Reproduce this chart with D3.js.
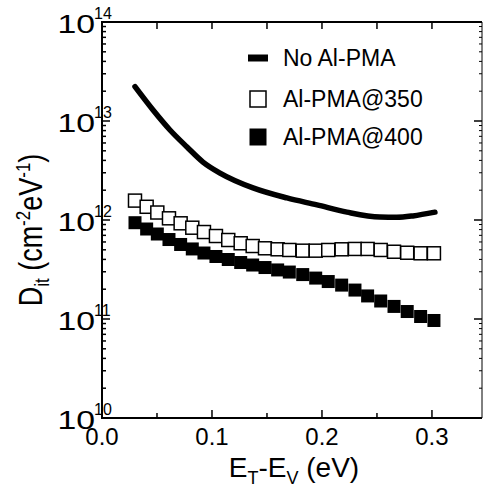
<!DOCTYPE html>
<html lang="en">
<head>
  <meta charset="utf-8">
  <title>Dit vs ET-EV</title>
  <script src="https://d3js.org/d3.v7.min.js"></script>
  <style>
    body { margin: 0; background: #fff; }
    svg { display: block; font-family: "Liberation Sans", Arial, Helvetica, sans-serif; }
  </style>
</head>
<body>
  <div id="chart"></div>
  <script>
    // Energies (eV) shared by both square series
    const energy = [0.0300, 0.0406, 0.0503, 0.0609, 0.0715, 0.0821, 0.0927, 0.1036, 0.1148,
      0.1261, 0.1370, 0.1482, 0.1597, 0.1703, 0.1825, 0.1943, 0.2057, 0.2179, 0.2300,
      0.2415, 0.2534, 0.2655, 0.2775, 0.2897, 0.3018];

    // Al-PMA@350 (open squares)
    const dit350 = [1.57e12, 1.36e12, 1.19e12, 1.04e12, 9.26e11, 8.36e11, 7.56e11, 6.89e11, 6.28e11,
      5.82e11, 5.46e11, 5.18e11, 5.06e11, 4.98e11, 4.90e11, 4.90e11, 4.98e11, 5.06e11, 5.10e11,
      5.10e11, 4.98e11, 4.78e11, 4.67e11, 4.61e11, 4.61e11];

    // Al-PMA@400 (filled squares)
    const dit400 = [9.39e11, 8.11e11, 7.22e11, 6.35e11, 5.66e11, 5.10e11, 4.64e11, 4.28e11, 3.99e11,
      3.72e11, 3.51e11, 3.31e11, 3.13e11, 2.98e11, 2.81e11, 2.59e11, 2.39e11, 2.20e11, 1.96e11,
      1.71e11, 1.52e11, 1.34e11, 1.19e11, 1.06e11, 9.66e10];

    // No Al-PMA (solid line)
    const lineE = [0.030, 0.0464, 0.0618, 0.0773, 0.0918, 0.1073, 0.1373, 0.1682, 0.1955,
      0.2227, 0.2527, 0.268, 0.2827, 0.3027];
    const lineDit = [2.22e13, 1.29e13, 8.11e12, 5.46e12, 3.85e12, 2.98e12, 2.11e12, 1.67e12, 1.42e12,
      1.20e12, 1.07e12, 1.065e12, 1.10e12, 1.20e12];

    const xTicks = [0, 0.1, 0.2, 0.3];
    const yExponents = [10, 11, 12, 13, 14];
    const legendLabels = ["No Al-PMA", "Al-PMA@350", "Al-PMA@400"];

    const width = 484, height = 486;
    const plotL = 102, plotR = 482, plotT = 22, plotB = 418;

    const svg = d3.select("#chart").append("svg")
      .attr("width", width)
      .attr("height", height);

    const x = d3.scaleLinear().domain([0, 0.3455]).range([plotL, plotR]);
    const y = d3.scaleLog().domain([1e10, 1e14]).range([plotB, plotT]);

    // Frame
    svg.append("line").attr("x1", plotL).attr("x2", plotR).attr("y1", plotB).attr("y2", plotB)
      .attr("stroke", "#000").attr("stroke-width", 2);
    svg.append("line").attr("x1", plotL).attr("x2", plotR).attr("y1", plotT).attr("y2", plotT)
      .attr("stroke", "#000").attr("stroke-width", 2);
    svg.append("line").attr("x1", plotL).attr("x2", plotL).attr("y1", plotT - 1).attr("y2", plotB + 1)
      .attr("stroke", "#000").attr("stroke-width", 2);
    svg.append("line").attr("x1", plotR).attr("x2", plotR).attr("y1", plotT).attr("y2", plotB)
      .attr("stroke", "#000").attr("stroke-width", 1);

    // X ticks (inward), bottom and top
    const xMinor = [0.05, 0.15, 0.25];
    const ticks = svg.append("g").attr("stroke", "#000").attr("stroke-width", 1.5);
    xTicks.forEach(t => {
      ticks.append("line").attr("x1", x(t)).attr("x2", x(t)).attr("y1", plotB).attr("y2", plotB - 8);
      ticks.append("line").attr("x1", x(t)).attr("x2", x(t)).attr("y1", plotT).attr("y2", plotT + 7);
    });
    xMinor.forEach(t => {
      ticks.append("line").attr("x1", x(t)).attr("x2", x(t)).attr("y1", plotB).attr("y2", plotB - 5);
      ticks.append("line").attr("x1", x(t)).attr("x2", x(t)).attr("y1", plotT).attr("y2", plotT + 7);
    });

    // Y ticks (inward), left and right
    yExponents.forEach((e, i) => {
      const v = Math.pow(10, e);
      ticks.append("line").attr("x1", plotL).attr("x2", plotL + 8).attr("y1", y(v)).attr("y2", y(v));
      ticks.append("line").attr("x1", plotR).attr("x2", plotR - 8).attr("y1", y(v)).attr("y2", y(v));
      if (i < yExponents.length - 1) {
        for (let m = 2; m <= 9; m++) {
          const yy = y(m * v);
          ticks.append("line").attr("x1", plotL).attr("x2", plotL + 4).attr("y1", yy).attr("y2", yy);
          ticks.append("line").attr("x1", plotR).attr("x2", plotR - 3).attr("y1", yy).attr("y2", yy)
            .attr("stroke-width", 1);
        }
      }
    });

    // X tick labels
    svg.append("g").selectAll("text").data(xTicks).join("text")
      .attr("x", d => x(d))
      .attr("y", 445)
      .attr("text-anchor", "middle")
      .attr("font-size", 24)
      .text(d => d.toFixed(1));

    // Y tick labels 10^n (the "10" is drawn a little wide, as in the figure)
    yExponents.forEach(e => {
      const yy = y(Math.pow(10, e));
      svg.append("text")
        .attr("transform", `translate(95,${yy + 11}) scale(1.3,1)`)
        .attr("text-anchor", "end")
        .attr("font-size", 26)
        .text("10");
      svg.append("text")
        .attr("x", 94).attr("y", yy - 3)
        .attr("font-size", 16)
        .text(e);
    });

    // Axis titles
    const xt = svg.append("text")
      .attr("x", 294).attr("y", 477)
      .attr("text-anchor", "middle")
      .attr("font-size", 28);
    xt.append("tspan").text("E");
    xt.append("tspan").attr("font-size", 18).attr("dy", 7).text("T");
    xt.append("tspan").attr("dy", -7).text("-E");
    xt.append("tspan").attr("font-size", 18).attr("dy", 7).text("V");
    xt.append("tspan").attr("dy", -7).text(" (eV)");

    const yt = svg.append("text")
      .attr("transform", "translate(42,230) rotate(-90) scale(1,1.2)")
      .attr("text-anchor", "middle")
      .attr("font-size", 27);
    yt.append("tspan").text("D");
    yt.append("tspan").attr("font-size", 17).attr("dy", 6).text("it");
    yt.append("tspan").attr("dy", -6).text(" (cm");
    yt.append("tspan").attr("font-size", 17).attr("dy", -10).text("-2");
    yt.append("tspan").attr("dy", 10).text("eV");
    yt.append("tspan").attr("font-size", 17).attr("dy", -10).text("-1");
    yt.append("tspan").attr("dy", 10).text(")");

    // No Al-PMA line
    const lineData = lineE.map((e, i) => [e, lineDit[i]]);
    svg.append("path")
      .datum(lineData)
      .attr("fill", "none")
      .attr("stroke", "#000")
      .attr("stroke-width", 5.5)
      .attr("stroke-linecap", "round")
      .attr("d", d3.line().x(d => x(d[0])).y(d => y(d[1])).curve(d3.curveMonotoneX));

    const sq = 13;
    // Open squares
    svg.append("g").selectAll("rect").data(energy.map((e, i) => [e, dit350[i]])).join("rect")
      .attr("x", d => x(d[0]) - sq / 2)
      .attr("y", d => y(d[1]) - sq / 2)
      .attr("width", sq).attr("height", sq)
      .attr("fill", "#fff")
      .attr("stroke", "#000")
      .attr("stroke-width", 1.5);

    // Filled squares
    svg.append("g").selectAll("rect").data(energy.map((e, i) => [e, dit400[i]])).join("rect")
      .attr("x", d => x(d[0]) - sq / 2)
      .attr("y", d => y(d[1]) - sq / 2)
      .attr("width", sq).attr("height", sq)
      .attr("fill", "#000");

    // Legend
    const legY = [58, 99, 137];
    const legX = 258, lsq = 16;
    const lg = svg.append("g");
    lg.append("line").attr("x1", legX - 10).attr("x2", legX + 10).attr("y1", legY[0]).attr("y2", legY[0])
      .attr("stroke", "#000").attr("stroke-width", 7);
    lg.append("rect").attr("x", legX - lsq / 2).attr("y", legY[1] - lsq / 2).attr("width", lsq).attr("height", lsq)
      .attr("fill", "#fff").attr("stroke", "#000").attr("stroke-width", 1.5);
    lg.append("rect").attr("x", legX - lsq / 2 - 0.5).attr("y", legY[2] - lsq / 2 - 0.5)
      .attr("width", lsq + 1).attr("height", lsq + 1)
      .attr("fill", "#000");
    lg.selectAll("text").data(legendLabels).join("text")
      .attr("x", 283)
      .attr("y", (d, i) => legY[i] + 8)
      .attr("font-size", 23)
      .text(d => d);
  </script>
</body>
</html>
